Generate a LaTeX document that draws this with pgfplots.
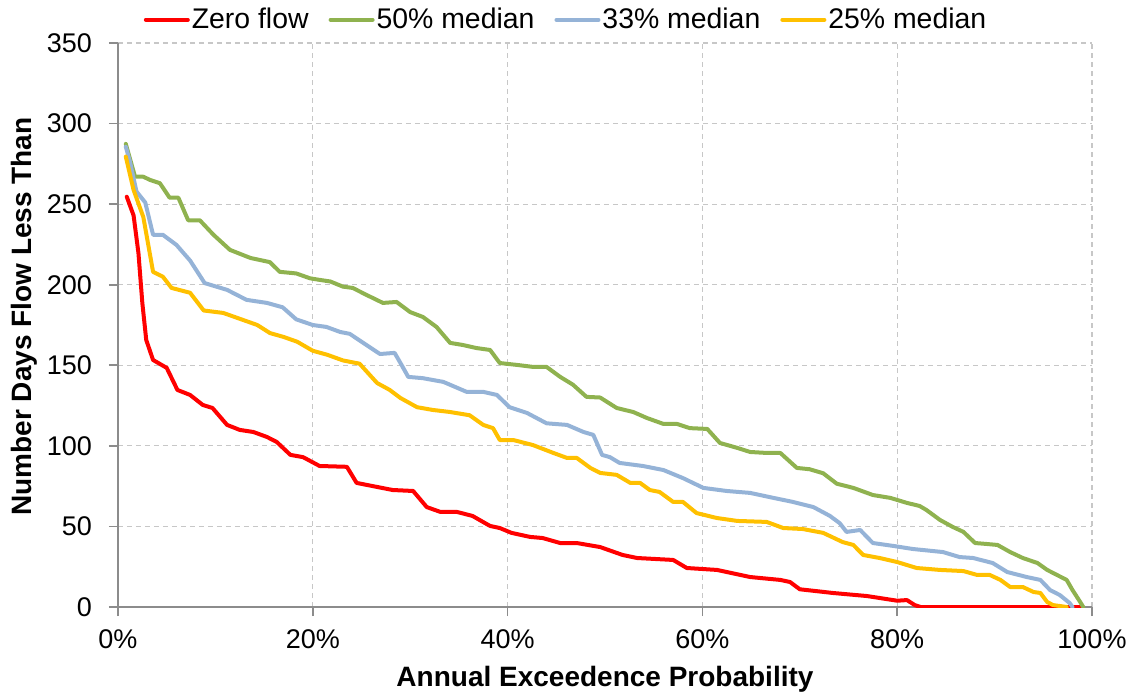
\documentclass[border=0pt]{standalone}
\usepackage{fontspec}
\setmainfont{Liberation Sans}
\usepackage{pgfplots}
\pgfplotsset{compat=1.18}

\definecolor{zeroflow}{HTML}{FF0000}
\definecolor{medfifty}{HTML}{8FB24F}
\definecolor{medthird}{HTML}{95B3D7}
\definecolor{medquarter}{HTML}{FFC000}

\begin{document}
\begin{tikzpicture}
\useasboundingbox (-59pt,-45pt) rectangle (507pt,303.5pt);
\begin{axis}[
  at={(0,0)}, anchor=south west,
  scale only axis, width=487pt, height=282pt,
  xmin=0, xmax=100, ymin=0, ymax=350,
  xtick={0,20,...,100},
  xticklabels={0\%,20\%,40\%,60\%,80\%,100\%},
  ytick={0,50,...,350},
  axis x line*=bottom, axis y line*=left,
  axis line style={draw=black!45, line width=0.8pt},
  tick style={draw=black!45, line width=0.8pt},
  tick align=outside, major tick length=4.5pt,
  grid=major,
  major grid style={draw=black!22, line width=0.6pt, dash pattern=on 2.5pt off 2pt},
  /pgf/number format/assume math mode=true,
  ticklabel style={font=\fontsize{13.5}{15}\selectfont},
  yticklabel style={xshift=-5pt},
  xticklabel style={yshift=-3.5pt},
  every axis x label/.style={at={(axis description cs:0.5,0)}, anchor=center, yshift=-36pt},
  every axis y label/.style={at={(axis description cs:-0.0965,0.515)}, rotate=90, anchor=center},
  label style={font=\fontsize{14}{16}\selectfont\bfseries},
  xlabel={Annual Exceedence Probability},
  ylabel={Number Days Flow Less Than},
  legend style={at={(0.46,1)}, anchor=south, yshift=2.5pt, draw=none, fill=none,
    font=\fontsize{14.2}{16}\selectfont, legend columns=4,
    nodes={inner sep=1pt},
    /tikz/every even column/.append style={column sep=9pt}},
  legend image code/.code={\draw[#1] (0pt,0pt) -- (21pt,0pt);},
  every axis plot/.append style={line width=2pt, line join=round, line cap=round},
]
% zero flow
\addplot[zeroflow] table {
x y
0.9 254.6
1.6 243
2.1 219.6
2.5 188.6
2.9 165.7
3.6 153.3
5.0 148.4
6.1 134.7
7.4 131.6
8.7 125.4
9.7 123.5
11.2 113
12.5 109.9
13.9 108.6
15.3 105.5
16.3 102.4
17.7 94.4
19.0 93
20.7 87.5
23.5 87
24.5 77
26.6 74.5
28.2 72.6
30.3 72
31.7 62
33.1 59
34.8 59
36.4 56.5
38.2 50.3
39.2 49
40.4 46
42.3 43.5
43.6 42.8
45.4 39.7
47.1 39.7
49.5 37.2
51.8 32.3
53.3 30.4
57.0 29.2
58.4 24.2
61.5 23
64.9 18.6
68.0 16.8
69.0 15.5
70.0 11
73.4 8.7
76.9 6.8
80.0 3.9
81.0 4.3
81.8 1.2
82.4 0
99.0 0
};
\addlegendentry{Zero flow}
% 50% of median
\addplot[medfifty] table {
x y
0.8 287.4
1.75 267
2.6 267
3.3 265
4.3 263
5.3 254
6.2 254
7.2 240
8.4 240
9.8 231
11.5 221.6
13.6 216.6
15.6 214
16.6 208
18.3 207
19.7 204
20.7 203
21.8 202
23.1 198.8
24.1 198
25.5 193.7
27.2 188.7
28.6 189.3
30.0 183
31.3 180
32.7 173.8
34.1 163.9
35.4 162.6
36.8 160.7
38.2 159.5
39.2 151.4
41.0 150.2
42.6 149
44.0 149
45.4 142.8
46.7 138
48.1 130.4
49.5 130
51.2 123.5
52.9 121
54.3 117.3
56.0 113.6
57.4 113.6
58.7 111
60.5 110.5
61.8 101.8
63.6 98.7
64.9 96.2
66.6 95.6
68.0 95.6
69.7 86.3
71.0 85.5
72.4 83
73.8 76.5
75.5 73.9
77.5 69.5
79.3 67.7
81.0 64.6
82.3 62.7
83.0 60.2
84.4 54
85.7 49.7
86.8 46.6
88.0 39.7
89.2 39.1
90.3 38.5
91.6 34.1
92.9 30.4
94.4 27.3
95.4 23
96.4 19.9
97.4 16.8
98.0 10.5
98.8 3
99.1 0
};
\addlegendentry{50\% median}
% 33% of median
\addplot[medthird] table {
x y
0.8 285.6
1.2 277
1.9 257.8
2.8 251
3.6 231
4.6 231
6.0 224.7
7.4 215
8.9 201
11.2 196.8
13.2 190.6
15.3 188.7
16.9 186
18.3 178.5
20.0 175
21.4 173.8
22.8 170.7
23.8 169.5
25.5 162.6
26.9 157
28.4 157.7
29.0 151.4
29.8 142.8
31.3 142
33.4 139.7
35.8 133.5
37.5 133.5
38.9 131.6
40.2 124
42.0 120.4
44.0 114
46.1 113
47.8 108.6
48.8 106.8
49.7 94.4
50.5 93
51.5 89.4
53.9 87.5
56.0 85
58.0 80
60.1 73.9
62.5 72
64.9 70.8
67.3 67.7
69.3 65.2
71.4 62
73.1 56.5
74.1 52
74.8 46.6
76.2 47.8
77.5 39.7
79.6 37.9
81.6 36
84.7 34.1
86.4 31
87.8 30.4
89.8 27.3
91.3 21.7
93.3 18.6
94.7 16.8
95.7 10.5
96.7 7.4
97.7 2.5
98.0 0
};
\addlegendentry{33\% median}
% 25% of median
\addplot[medquarter] table {
x y
0.8 279.5
1.6 258.8
2.6 242
3.6 208
4.6 205
5.5 198
7.4 195
8.8 184
10.8 182.5
12.9 178
14.3 175
15.6 170
17.0 167.6
18.4 164.6
20.0 159
21.5 156.5
23.1 153
24.8 151
26.6 139
27.9 134.7
29.0 129.7
30.7 124
32.3 122.3
34.1 121
36.1 119
37.5 113
38.5 111
39.2 103.6
40.6 103.6
42.6 100.5
44.7 95.6
46.1 92.5
47.1 92.5
48.5 86.3
49.5 83.2
51.2 82
52.6 77
53.6 77
54.6 72.6
55.6 71.4
57.0 65.2
58.0 65.2
59.4 58.3
61.5 55.2
63.6 53.4
66.6 52.8
68.3 49
70.3 48.4
72.4 46
74.4 40.3
75.5 38.5
76.5 32.3
78.2 30.4
80.0 27.9
82.0 24.2
84.4 23
86.8 22.3
88.2 19.9
89.5 19.9
90.6 16.8
91.6 12.4
92.9 12.4
94.0 9.3
94.7 8.7
95.4 3.1
96.0 1.2
97.4 0
};
\addlegendentry{25\% median}
\end{axis}
\end{tikzpicture}
\end{document}
